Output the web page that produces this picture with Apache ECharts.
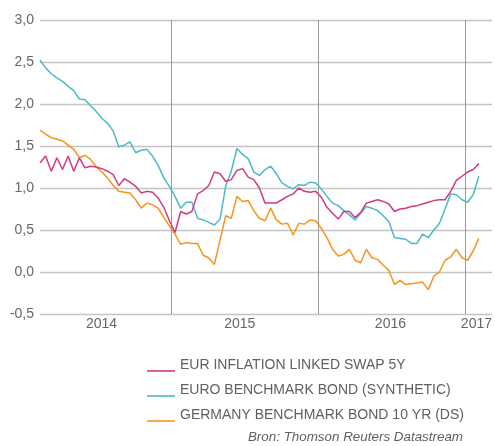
<!DOCTYPE html>
<html>
<head>
    <meta charset="utf-8">
    <script type="text/javascript" src="https://cdn.jsdelivr.net/npm/echarts@6/dist/echarts.min.js"></script>
    <style type="text/css">
        *{
            margin: 0;
            padding: 0;
        }
        #main{
            width: 495px;
            height: 446px;
            background: #ffffff;
        }
    </style>
</head>

<body>
    <div id="main"></div>

    <script type="text/javascript">
        // series names
        var names = ['EUR INFLATION LINKED SWAP 5Y', 'EURO BENCHMARK BOND (SYNTHETIC)', 'GERMANY BENCHMARK BOND 10 YR (DS)'];
        var colors = ['#d33a82', '#4cb9c9', '#f79420'];

        // one reading every 14 days, starting 8 feb 2014
        var startDate = '2014-02-08';
        var endDate = '2017-03-09';
        var stepDays = 14;

        var swap5y = [
            1.30, 1.38, 1.20, 1.36, 1.22, 1.38, 1.20, 1.36, 1.24, 1.26,
            1.25, 1.23, 1.20, 1.16, 1.03, 1.11, 1.07, 1.02, 0.94, 0.96,
            0.95, 0.88, 0.77, 0.61, 0.47, 0.72, 0.69, 0.72, 0.93, 0.97,
            1.03, 1.19, 1.17, 1.08, 1.10, 1.21, 1.23, 1.13, 1.10, 1.00,
            0.82, 0.82, 0.82, 0.86, 0.90, 0.93, 1.00, 0.96, 0.95, 0.96,
            0.89, 0.77, 0.70, 0.63, 0.72, 0.72, 0.65, 0.71, 0.82, 0.84,
            0.86, 0.84, 0.81, 0.72, 0.75, 0.76, 0.78, 0.79, 0.81, 0.83,
            0.85, 0.86, 0.86, 0.96, 1.09, 1.14, 1.19, 1.22, 1.29
        ];
        var euroBond = [
            2.52, 2.43, 2.36, 2.31, 2.27, 2.21, 2.16, 2.06, 2.05, 1.98,
            1.91, 1.83, 1.77, 1.68, 1.49, 1.51, 1.55, 1.42, 1.45, 1.46,
            1.38, 1.27, 1.12, 1.02, 0.90, 0.76, 0.83, 0.83, 0.64, 0.62,
            0.59, 0.56, 0.63, 1.02, 1.20, 1.47, 1.40, 1.35, 1.19, 1.15,
            1.22, 1.26, 1.17, 1.06, 1.02, 0.99, 1.04, 1.03, 1.07, 1.06,
            0.99, 0.90, 0.82, 0.79, 0.73, 0.68, 0.62, 0.70, 0.78, 0.76,
            0.73, 0.67, 0.60, 0.41, 0.40, 0.39, 0.34, 0.34, 0.45, 0.41,
            0.50, 0.58, 0.75, 0.93, 0.92, 0.86, 0.83, 0.92, 1.14
        ];
        var bund10y = [
            1.69, 1.64, 1.60, 1.58, 1.56, 1.51, 1.46, 1.36, 1.39, 1.34,
            1.25, 1.19, 1.12, 1.03, 0.96, 0.95, 0.94, 0.86, 0.76, 0.82,
            0.80, 0.76, 0.65, 0.55, 0.45, 0.33, 0.35, 0.34, 0.34, 0.20,
            0.17, 0.09, 0.38, 0.67, 0.64, 0.90, 0.84, 0.85, 0.73, 0.64,
            0.61, 0.76, 0.62, 0.57, 0.58, 0.44, 0.58, 0.57, 0.62, 0.61,
            0.52, 0.41, 0.27, 0.19, 0.21, 0.27, 0.14, 0.11, 0.27, 0.17,
            0.15, 0.08, 0.02, -0.15, -0.10, -0.15, -0.14, -0.13, -0.12, -0.21,
            -0.05, 0.00, 0.14, 0.18, 0.27, 0.17, 0.14, 0.25, 0.40
        ];

        var yearLines = ['2015-01-01', '2016-01-01', '2017-01-01'];
        // year labels sit in the middle of each year
        var yearLabels = ['2014-07-11', '2015-06-20', '2016-06-29', '2017-01-29'];

        function ms(s) {
            return Date.parse(s + 'T00:00:00Z');
        }

        var dates = [];
        for (var i = 0; i < swap5y.length; i++) {
            dates.push(ms(startDate) + i * stepDays * 86400000);
        }

        function pairs(values) {
            return values.map(function (v, i) { return [dates[i], v]; });
        }

        var font = 'Liberation Sans';
        var myChart = echarts.init(document.getElementById('main'));
        var option = {
            backgroundColor: '#ffffff',
            animation: false,
            grid: {
                left: 40,
                right: 2,
                top: 20,
                bottom: 132
            },
            legend: {
                orient: 'vertical',
                left: 147,
                top: 358,
                padding: 0,
                itemWidth: 28,
                itemHeight: 14,
                itemGap: 11,
                icon: 'path://M0,0 M0,12 L28,12 L28,13.6 L0,13.6 Z',
                textStyle: {
                    fontFamily: font,
                    fontSize: 14,
                    color: '#606060'
                },
                data: names
            },
            graphic: [{
                type: 'text',
                right: 32,
                top: 431,
                style: {
                    text: 'Bron: Thomson Reuters Datastream',
                    font: 'italic 13.4px "Liberation Sans"',
                    fill: '#606060'
                }
            }],
            xAxis: {
                type: 'value',
                min: ms(startDate),
                max: ms(endDate),
                axisLine: {show: false},
                axisTick: {show: false, customValues: yearLines.map(ms)},
                splitLine: {
                    show: true,
                    lineStyle: {color: '#9a9a9a', width: 1}
                },
                axisLabel: {
                    customValues: yearLabels.map(ms),
                    margin: 3,
                    fontFamily: font,
                    fontSize: 14,
                    color: '#666666',
                    formatter: function (v) {
                        return new Date(v).getUTCFullYear() + '';
                    }
                }
            },
            yAxis: {
                type: 'value',
                min: -0.5,
                max: 3,
                interval: 0.5,
                axisLine: {show: false},
                axisTick: {show: false},
                splitLine: {
                    lineStyle: {color: '#c4c4c4', width: 1.4}
                },
                axisLabel: {
                    margin: 6,
                    fontFamily: font,
                    fontSize: 14,
                    color: '#666666',
                    formatter: function (v) {
                        return v.toFixed(1).replace('.', ',');
                    }
                }
            },
            series: [
                {
                    name: names[0],
                    type: 'line',
                    showSymbol: false,
                    color: colors[0],
                    lineStyle: {width: 1.5},
                    z: 4,
                    data: pairs(swap5y)
                },
                {
                    name: names[1],
                    type: 'line',
                    showSymbol: false,
                    color: colors[1],
                    lineStyle: {width: 1.5},
                    z: 3,
                    data: pairs(euroBond)
                },
                {
                    name: names[2],
                    type: 'line',
                    showSymbol: false,
                    color: colors[2],
                    lineStyle: {width: 1.5},
                    z: 2,
                    data: pairs(bund10y)
                }
            ]
        };
        myChart.setOption(option);
    </script>
</body>
</html>
